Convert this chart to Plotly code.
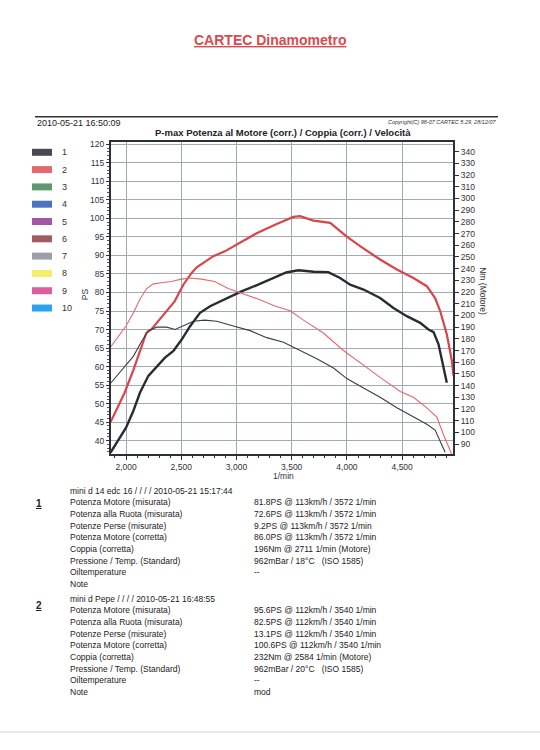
import plotly.graph_objects as go

# ---------------- data ----------------
rpm_p2 = [1860, 1988, 2063, 2124, 2184, 2229, 2278, 2399, 2440, 2519, 2592, 2640, 2743, 2791, 2894, 3002, 3045,
          3183, 3364, 3515, 3576, 3697, 3848, 3999, 4119, 4300, 4452, 4602, 4723, 4798, 4844, 4889, 4904, 4950, 4965]
ps_p2 = [45.0, 53.0, 58.8, 64.2, 69.1, 70.0, 71.8, 76.3, 77.6, 82.1, 85.2, 86.8, 88.9, 89.8, 91.1, 92.9, 93.8,
         96.0, 98.5, 100.4, 100.6, 99.4, 98.8, 95.1, 92.5, 88.9, 86.2, 83.9, 81.7, 78.5, 75.0, 70.0, 68.7, 61.5, 57.4]

rpm_p1 = [1860, 2000, 2066, 2127, 2202, 2278, 2353, 2429, 2504, 2580, 2670, 2761, 2894, 3045, 3196, 3347, 3450,
          3560, 3700, 3831, 3938, 4029, 4150, 4300, 4421, 4542, 4663, 4738, 4784, 4829, 4860, 4904]
ps_p1 = [36.8, 43.5, 48.0, 53.0, 57.5, 60.1, 62.4, 64.2, 67.3, 70.9, 74.5, 76.3, 78.1, 80.3, 82.1, 84.1, 85.4,
         86.0, 85.6, 85.5, 83.9, 82.1, 80.8, 78.5, 75.8, 73.6, 71.8, 70.0, 69.3, 66.0, 61.5, 55.6]

rpm_t2 = [1860, 2000, 2066, 2127, 2187, 2247, 2320, 2410, 2501, 2584, 2682, 2803, 2924, 3045, 3196, 3347, 3485,
          3606, 3787, 3968, 4150, 4300, 4482, 4602, 4723, 4814, 4874, 4919, 4950]
nm_t2 = [173, 191, 202, 214, 223, 227, 228, 229, 231, 232, 231, 229, 223, 219, 214, 208, 204,
         196, 185, 170, 157, 147, 135, 130, 121, 113, 98, 88, 81]

rpm_t1 = [1860, 2000, 2066, 2142, 2202, 2278, 2368, 2444, 2519, 2610, 2711, 2821, 2972, 3123, 3274, 3425, 3576,
          3727, 3878, 3999, 4150, 4300, 4452, 4602, 4723, 4798, 4844, 4889]
nm_t1 = [142, 157, 165, 178, 187, 190, 190, 188, 191, 195, 196, 195, 191, 187, 181, 177, 170,
         163, 155, 146, 138, 130, 121, 113, 107, 102, 93, 83]

legend_labels = ["1", "2", "3", "4", "5", "6", "7", "8", "9", "10"]
legend_colors = ["#474a52", "#e4696d", "#5d9870", "#4d72c2", "#a456a2", "#a25c62", "#9c9ea8", "#f5ee6c", "#dc5ea0", "#2ea2ef"]

run1_head = "mini d 14 edc 16 / / / / 2010-05-21 15:17:44"
run2_head = "mini d Pepe / / / / 2010-05-21 16:48:55"
row_labels = ["Potenza Motore (misurata)", "Potenza alla Ruota (misurata)", "Potenze Perse (misurate)",
              "Potenza Motore (corretta)", "Coppia (corretta)", "Pressione / Temp. (Standard)",
              "Oiltemperature", "Note"]
run1_values = ["81.8PS @ 113km/h / 3572 1/min", "72.6PS @ 113km/h / 3572 1/min", "9.2PS @ 113km/h / 3572 1/min",
               "86.0PS @ 113km/h / 3572 1/min", "196Nm @ 2711 1/min (Motore)", "962mBar / 18°C   (ISO 1585)",
               "--", ""]
run2_values = ["95.6PS @ 112km/h / 3540 1/min", "82.5PS @ 112km/h / 3540 1/min", "13.1PS @ 112km/h / 3540 1/min",
               "100.6PS @ 112km/h / 3540 1/min", "232Nm @ 2584 1/min (Motore)", "962mBar / 20°C   (ISO 1585)",
               "--", "mod"]

# ---------------- figure ----------------
W, H = 540, 750
def px(x):
    return x / W
def py(y):
    return 1 - y / H

FONT = "Arial, Liberation Sans, sans-serif"
DARK = "#2c3038"
RED = "#d8454a"

fig = go.Figure()
fig.add_trace(go.Scatter(x=rpm_t2, y=nm_t2, yaxis="y2", mode="lines",
                         line=dict(color="#e06a6e", width=1.1), showlegend=False, hoverinfo="skip"))
fig.add_trace(go.Scatter(x=rpm_t1, y=nm_t1, yaxis="y2", mode="lines",
                         line=dict(color="#3a3d45", width=1.1), showlegend=False, hoverinfo="skip"))
fig.add_trace(go.Scatter(x=rpm_p2, y=ps_p2, mode="lines",
                         line=dict(color=RED, width=2.2), showlegend=False, hoverinfo="skip"))
fig.add_trace(go.Scatter(x=rpm_p1, y=ps_p1, mode="lines",
                         line=dict(color="#2a2c32", width=2.4), showlegend=False, hoverinfo="skip"))

x0, x1, y0, y1 = 111, 453, 140, 453
fig.update_layout(
    width=W, height=H, autosize=False,
    margin=dict(l=0, r=0, t=0, b=0),
    paper_bgcolor="white", plot_bgcolor="white",
    font=dict(family=FONT, color="#333", size=9),
    showlegend=False,
    xaxis=dict(domain=[px(x0), px(x1)], range=[1864, 4960], tick0=2000, dtick=500,
               tickformat=",d", showgrid=True, gridcolor="#a3a8b2", gridwidth=1,
               showline=True, linecolor=DARK, linewidth=2, mirror=True,
               ticks="outside", ticklen=4, tickcolor=DARK,
               minor=dict(dtick=100, ticks="outside", ticklen=2, tickcolor=DARK),
               tickfont=dict(size=8.5, color="#333"), zeroline=False, fixedrange=True),
    yaxis=dict(domain=[py(y1), py(y0)], range=[36.45, 120.73], tick0=40, dtick=5,
               showgrid=True, gridcolor="#a3a8b2", gridwidth=1,
               showline=True, linecolor=DARK, linewidth=2,
               ticks="outside", ticklen=3, tickcolor=DARK,
               minor=dict(dtick=1, ticks="outside", ticklen=2, tickcolor="#555"),
               tickfont=dict(size=8.5, color="#333"), zeroline=False, fixedrange=True),
    yaxis2=dict(overlaying="y", side="right", range=[81.7, 348.6], tick0=90, dtick=10,
                showgrid=False, showline=True, linecolor=DARK, linewidth=2,
                ticks="outside", ticklen=4, tickcolor=DARK,
                tickfont=dict(size=8.5, color="#333"), zeroline=False, fixedrange=True),
)

ann = []
shapes = []

def note(x, y, text, size=8.5, color="#222", xanchor="left", angle=0):
    ann.append(dict(xref="paper", yref="paper", x=px(x), y=py(y), text=text, showarrow=False,
                    textangle=angle, font=dict(size=size, color=color, family=FONT),
                    xanchor=xanchor, yanchor="middle"))

# page header
note(270, 38, "<u><b>CARTEC Dinamometro</b></u>", size=14, color="#d94a4e", xanchor="center")
shapes.append(dict(type="line", xref="paper", yref="paper", x0=px(35), x1=px(498), y0=py(115), y1=py(115),
                   line=dict(color="#333", width=1.6)))
note(35, 121, "2010-05-21 16:50:09", size=9)
note(498, 120, "<i>Copyright(C) 98-07 CARTEC 5.29, 28/12/07</i>", size=5.5, color="#333", xanchor="right")
note(283, 131, "<b>P-max Potenza al Motore (corr.) / Coppia (corr.) / Velocità</b>", size=9.5, xanchor="center")

# axis titles
note(85, 293, "PS", size=8.5, color="#333", xanchor="center", angle=-90)
note(483, 290, "Nm (Motore)", size=8.5, color="#333", xanchor="center", angle=90)
note(283, 475, "1/min", size=8.5, color="#333", xanchor="center")

# legend boxes
for i, (lab, col) in enumerate(zip(legend_labels, legend_colors)):
    yc = 150.7 + i * 17.35
    shapes.append(dict(type="rect", xref="paper", yref="paper", x0=px(32), x1=px(52),
                       y0=py(yc + 3.5), y1=py(yc - 3.5), fillcolor=col, line=dict(width=0)))
    note(60, yc, lab, size=9, color="#333")

# results text
def block(num, head, values, ytop, num_y):
    note(34, num_y, "<u><b>%s</b></u>" % num, size=10)
    note(68, ytop, head)
    for k, (lab, val) in enumerate(zip(row_labels, values)):
        yy = ytop + (k + 1) * 11.7
        note(68, yy, lab)
        if val:
            note(252, yy, val)

block("1", run1_head, run1_values, 490, 503)
block("2", run2_head, run2_values, 598.3, 605)

shapes.append(dict(type="line", xref="paper", yref="paper", x0=0, x1=1, y0=py(732), y1=py(732),
                   line=dict(color="#d0d0d0", width=1)))

fig.update_layout(annotations=ann, shapes=shapes)
fig.write_html("out.html", config={"displayModeBar": False, "staticPlot": True},
               post_script="document.body.style.margin='0';document.body.style.padding='0';")
